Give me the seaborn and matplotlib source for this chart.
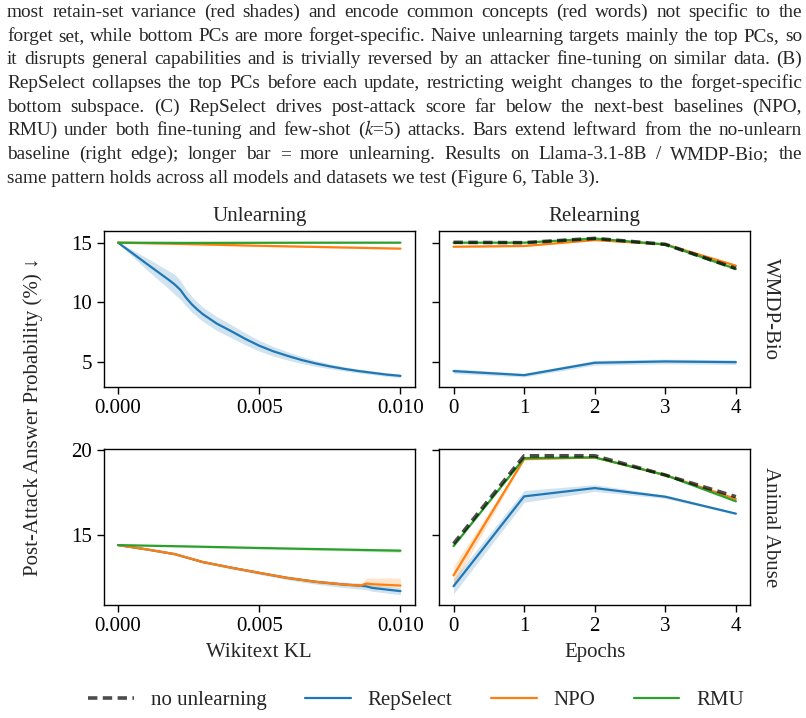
import matplotlib
matplotlib.use("Agg")
import matplotlib.pyplot as plt
import seaborn as sns

# %% data

# unlearning sweep (x = wikitext KL)
kl_bio = [0.0, 0.001, 0.0018, 0.002, 0.0022, 0.0024, 0.0026, 0.0028, 0.003, 0.0035, 0.004,
          0.0045, 0.005, 0.0055, 0.006, 0.0065, 0.007, 0.0075, 0.008, 0.0085, 0.009, 0.0095, 0.010]
rep_bio = [15.0, 13.25, 11.87, 11.5, 11.05, 10.4, 9.85, 9.4, 9.0, 8.2, 7.58,
           6.93, 6.35, 5.88, 5.5, 5.15, 4.86, 4.62, 4.41, 4.23, 4.08, 3.93, 3.82]
rep_bio_err = [0.05, 0.5, 0.75, 0.85, 0.8, 0.7, 0.65, 0.62, 0.6, 0.58, 0.55,
               0.5, 0.45, 0.4, 0.35, 0.3, 0.25, 0.2, 0.18, 0.16, 0.15, 0.15, 0.15]
kl_lin = [0.0, 0.0025, 0.005, 0.0075, 0.010]
npo_bio = [15.0, 14.88, 14.74, 14.62, 14.5]
npo_bio_err = [0.02, 0.06, 0.06, 0.06, 0.06]
rmu_bio = [15.0, 14.98, 14.99, 15.0, 15.0]
rmu_bio_err = [0.02, 0.04, 0.04, 0.04, 0.04]

kl_abuse = [0.0, 0.001, 0.002, 0.003, 0.004, 0.005, 0.006, 0.007, 0.008, 0.0086, 0.0088, 0.009, 0.010]
rep_abuse = [14.39, 14.14, 13.86, 13.39, 13.06, 12.75, 12.45, 12.22, 12.06, 11.99, 11.95, 11.86, 11.67]
rep_abuse_lo = [14.37, 14.09, 13.80, 13.32, 12.98, 12.66, 12.34, 12.08, 11.88, 11.79, 11.75, 11.66, 11.46]
rep_abuse_hi = [14.41, 14.19, 13.92, 13.46, 13.14, 12.84, 12.56, 12.34, 12.2, 12.15, 12.13, 12.04, 11.88]
npo_abuse = [14.39, 14.14, 13.86, 13.39, 13.06, 12.75, 12.45, 12.22, 12.06, 12.0, 12.12, 12.08, 12.0]
npo_abuse_lo = [14.37, 14.10, 13.81, 13.33, 12.99, 12.68, 12.38, 12.14, 11.98, 11.92, 11.95, 11.92, 11.9]
npo_abuse_hi = [14.41, 14.18, 13.91, 13.45, 13.13, 12.82, 12.52, 12.30, 12.14, 12.08, 12.45, 12.45, 12.45]
rmu_abuse = [14.39, 14.31, 14.22, 14.14, 14.06]
rmu_abuse_err = [0.02, 0.05, 0.06, 0.08, 0.1]

# relearning attack (x = epochs)
epochs = [0, 1, 2, 3, 4]
base_bio_re = [15.03, 15.0, 15.36, 14.86, 12.84]
rep_bio_re = [4.22, 3.88, 4.92, 5.03, 4.97]
rep_bio_re_err = [0.2, 0.15, 0.2, 0.2, 0.2]
npo_bio_re = [14.66, 14.72, 15.22, 14.86, 13.07]
npo_bio_re_err = [0.05, 0.05, 0.05, 0.05, 0.12]
rmu_bio_re = [15.0, 15.0, 15.35, 14.85, 12.8]
rmu_bio_re_err = [0.03, 0.03, 0.05, 0.05, 0.15]

base_abuse_re = [14.47, 19.67, 19.67, 18.53, 17.25]
rep_abuse_re = [11.96, 17.27, 17.76, 17.25, 16.25]
rep_abuse_re_err = [0.45, 0.35, 0.2, 0.1, 0.05]
npo_abuse_re = [12.6, 19.47, 19.57, 18.53, 17.12]
npo_abuse_re_err = [0.55, 0.05, 0.05, 0.05, 0.05]
rmu_abuse_re = [14.33, 19.53, 19.57, 18.53, 16.98]
rmu_abuse_re_err = [0.05, 0.03, 0.03, 0.05, 0.05]

caption_lines = [
    "most retain-set variance (red shades) and encode common concepts (red words) not specific to the",
    "forget set, while bottom PCs are more forget-specific. Naive unlearning targets mainly the top PCs, so",
    "it disrupts general capabilities and is trivially reversed by an attacker fine-tuning on similar data. (B)",
    "RepSelect collapses the top PCs before each update, restricting weight changes to the forget-specific",
    "bottom subspace.  (C) RepSelect drives post-attack score far below the next-best baselines (NPO,",
    "RMU) under both fine-tuning and few-shot ($k$=5) attacks. Bars extend leftward from the no-unlearn",
    "baseline (right edge); longer bar = more unlearning.  Results on Llama-3.1-8B / WMDP-Bio; the",
    "same pattern holds across all models and datasets we test (Figure 6, Table 3).",
]

# %% style

sns.set_theme(style="ticks")
serif = ["Liberation Serif", "DejaVu Serif"]
plt.rcParams["font.family"] = serif
plt.rcParams["mathtext.fontset"] = "stix"
plt.rcParams["axes.edgecolor"] = "black"
plt.rcParams["xtick.color"] = "black"
plt.rcParams["ytick.color"] = "black"
plt.rcParams["axes.linewidth"] = 1.0

C_REP, C_NPO, C_RMU = "#1f77b4", "#ff7f0e", "#2ca02c"
FS = 15
LW = 1.6

W, H = 806, 718
fig, axes = plt.subplots(2, 2, figsize=(W / 100, H / 100), dpi=100, sharey="row")
fig.subplots_adjust(left=104 / W, right=750 / W, top=1 - 231 / H, bottom=1 - 605 / H,
                    wspace=0.08, hspace=0.40)


def line(ax, x, y, color, label, lo=None, hi=None):
    sns.lineplot(x=x, y=y, ax=ax, color=color, lw=LW, label=label)
    if lo is not None:
        ax.fill_between(x, lo, hi, color=color, alpha=0.2, lw=0)


def band(y, e):
    return [a - b for a, b in zip(y, e)], [a + b for a, b in zip(y, e)]


# top-left
ax = axes[0, 0]
line(ax, kl_bio, rep_bio, C_REP, "RepSelect", *band(rep_bio, rep_bio_err))
line(ax, kl_lin, npo_bio, C_NPO, "NPO", *band(npo_bio, npo_bio_err))
line(ax, kl_lin, rmu_bio, C_RMU, "RMU", *band(rmu_bio, rmu_bio_err))

# top-right
ax = axes[0, 1]
line(ax, epochs, rep_bio_re, C_REP, "RepSelect", *band(rep_bio_re, rep_bio_re_err))
line(ax, epochs, npo_bio_re, C_NPO, "NPO", *band(npo_bio_re, npo_bio_re_err))
line(ax, epochs, rmu_bio_re, C_RMU, "RMU", *band(rmu_bio_re, rmu_bio_re_err))
sns.lineplot(x=epochs, y=base_bio_re, ax=ax, color="black", alpha=0.7, lw=2.6,
             dashes=(2.6, 1.5), label="no unlearning")

# bottom-left
ax = axes[1, 0]
line(ax, kl_abuse, rep_abuse, C_REP, "RepSelect", rep_abuse_lo, rep_abuse_hi)
line(ax, kl_abuse, npo_abuse, C_NPO, "NPO", npo_abuse_lo, npo_abuse_hi)
line(ax, kl_lin, rmu_abuse, C_RMU, "RMU", *band(rmu_abuse, rmu_abuse_err))

# bottom-right
ax = axes[1, 1]
line(ax, epochs, rep_abuse_re, C_REP, "RepSelect", *band(rep_abuse_re, rep_abuse_re_err))
line(ax, epochs, npo_abuse_re, C_NPO, "NPO", *band(npo_abuse_re, npo_abuse_re_err))
line(ax, epochs, rmu_abuse_re, C_RMU, "RMU", *band(rmu_abuse_re, rmu_abuse_re_err))
sns.lineplot(x=epochs, y=base_abuse_re, ax=ax, color="black", alpha=0.7, lw=2.6,
             dashes=(2.6, 1.5), label="no unlearning")

handles, labels = axes[1, 1].get_legend_handles_labels()
order = [3, 0, 1, 2]
handles = [handles[i] for i in order]
labels = [labels[i] for i in order]

for a in axes.flat:
    if a.get_legend() is not None:
        a.get_legend().remove()
    a.set_xlabel("")
    a.set_ylabel("")
    a.tick_params(labelsize=FS, length=5, width=1.0)
    for s in a.spines.values():
        s.set_visible(True)
        s.set_color("black")

axes[0, 0].set_ylim(2.9, 15.98)
axes[1, 0].set_ylim(10.85, 20.06)
axes[0, 0].set_yticks([5, 10, 15])
axes[1, 0].set_yticks([15, 20])
for a in axes[:, 0]:
    a.set_xticks([0.0, 0.005, 0.010])
    a.set_xticklabels(["0.000", "0.005", "0.010"])
for a in axes[:, 1]:
    a.set_xticks(epochs)

axes[0, 0].set_title("Unlearning", fontsize=FS, pad=7)
axes[0, 1].set_title("Relearning", fontsize=FS, pad=7)
axes[1, 0].set_xlabel("Wikitext KL", fontsize=FS, labelpad=5)
axes[1, 1].set_xlabel("Epochs", fontsize=FS, labelpad=5)
axes[0, 1].text(1.065, 0.5, "WMDP-Bio", transform=axes[0, 1].transAxes, rotation=-90,
                ha="center", va="center", fontsize=FS)
axes[1, 1].text(1.065, 0.5, "Animal Abuse", transform=axes[1, 1].transAxes, rotation=-90,
                ha="center", va="center", fontsize=FS)
fig.text(33 / W, 1 - 417 / H, "Post-Attack Answer Probability (%) \u2193", rotation=90,
         ha="center", va="center", fontsize=FS)

fig.legend(handles, labels, loc="center", bbox_to_anchor=(416 / W, 1 - 700 / H), ncol=4,
           frameon=False, fontsize=FS, handlelength=2.2, handletextpad=0.8, columnspacing=1.85)

# %% caption text above the plots, justified

renderer = fig.canvas.get_renderer()
x0, x1 = 7, 802


def text_width(s, fs):
    t = fig.text(0, 0, s, fontsize=fs)
    w = t.get_window_extent(renderer).width
    t.remove()
    return w


cap_fs = 14.5
widest = max(text_width(l, cap_fs) for l in caption_lines[:-1])
if widest > (x1 - x0) * 0.985:
    cap_fs = cap_fs * (x1 - x0) * 0.985 / widest

baselines = [17, 41, 64, 88, 112, 135, 159, 183]
for i, (l, b) in enumerate(zip(caption_lines, baselines)):
    y = 1 - b / H
    if i == len(caption_lines) - 1:
        fig.text(x0 / W, y, l, fontsize=cap_fs, va="baseline", ha="left")
        continue
    words = l.split()
    ws = [text_width(w, cap_fs) for w in words]
    gap = (x1 - x0 - sum(ws)) / (len(words) - 1)
    x = x0
    for w, wd in zip(words, ws):
        fig.text(x / W, y, w, fontsize=cap_fs, va="baseline", ha="left")
        x += wd + gap

fig.savefig("out.png", dpi=100)
